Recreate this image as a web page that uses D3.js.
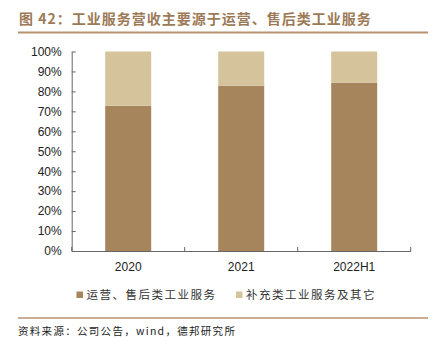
<!DOCTYPE html>
<html lang="zh">
<head>
<meta charset="UTF-8">
<title>图42</title>
<script src="https://d3js.org/d3.v7.min.js"></script>
<style>
  body { margin: 0; background: #fff; }
  svg { display: block; font-family: "Liberation Sans", Arial, sans-serif; }
  .cjk { font-family: "Noto Sans CJK SC", sans-serif; }
</style>
</head>
<body>
<div id="chart"></div>
<script>
var categories = ['2020', '2021', '2022H1'];
var operationShare = [72.8, 82.9, 84.4];
var otherShare = [27.2, 17.1, 15.6];
var seriesNames = ['运营、售后类工业服务', '补充类工业服务及其它'];
var yTicks = [0, 10, 20, 30, 40, 50, 60, 70, 80, 90, 100];

var width = 433, height = 351;
var colors = ['#a6845c', '#d5c49b'];
var lineColor = '#b89270';

var svg = d3.select('#chart').append('svg')
    .attr('width', width)
    .attr('height', height);

// title
svg.append('text')
    .attr('class', 'cjk')
    .attr('x', 19)
    .attr('y', 24)
    .attr('fill', '#9c7a57')
    .style('font-size', '14px')
    .style('font-weight', 'bold')
    .style('letter-spacing', '1px')
    .text('图 42：工业服务营收主要源于运营、售后类工业服务');

svg.append('line')
    .attr('x1', 18).attr('x2', 428)
    .attr('y1', 32.5).attr('y2', 32.5)
    .attr('stroke', lineColor)
    .attr('stroke-width', 2);

var x = d3.scaleBand()
    .domain(categories)
    .range([71.7, 410.7])
    .paddingInner(0)
    .paddingOuter(0);

var y = d3.scaleLinear()
    .domain([0, 100])
    .range([251, 51.5]);

var barWidth = 46;

var stackData = categories.map(function(c, i) {
    return { cat: c, a: operationShare[i], b: otherShare[i] };
});
var stack = d3.stack().keys(['a', 'b'])(stackData);

svg.append('g').selectAll('g')
    .data(stack)
    .join('g')
    .attr('fill', function(d, i) { return colors[i]; })
    .selectAll('rect')
    .data(function(d) { return d; })
    .join('rect')
    .attr('x', function(d) { return x(d.data.cat) + x.bandwidth() / 2 - barWidth / 2; })
    .attr('y', function(d) { return y(d[1]); })
    .attr('width', barWidth)
    .attr('height', function(d) { return y(d[0]) - y(d[1]); });

// y axis
var yAxis = svg.append('g')
    .attr('transform', 'translate(71.7,0)')
    .call(d3.axisLeft(y).tickValues(yTicks)
        .tickFormat(function(d) { return d + '%'; })
        .tickSizeInner(-4).tickSizeOuter(0).tickPadding(10));
yAxis.select('.domain').attr('stroke', '#666');
yAxis.selectAll('.tick line').attr('stroke', '#666');
yAxis.selectAll('text')
    .attr('fill', '#222')
    .style('font-size', '12px')
    .style('font-family', '"Liberation Sans", Arial, sans-serif');

// x axis
var xTickPos = [71.7, 184.7, 297.7, 410.7];
var xAxis = svg.append('g')
    .attr('transform', 'translate(0,251)')
    .call(d3.axisBottom(x).tickSize(0).tickPadding(11));
xAxis.select('.domain').attr('stroke', '#666');
xAxis.selectAll('text')
    .attr('fill', '#222')
    .style('font-size', '12px')
    .style('font-family', '"Liberation Sans", Arial, sans-serif');
xAxis.selectAll('.sep')
    .data(xTickPos)
    .join('line')
    .attr('class', 'sep')
    .attr('x1', function(d) { return d; })
    .attr('x2', function(d) { return d; })
    .attr('y1', 0).attr('y2', -4)
    .attr('stroke', '#666');

// legend
var legendX = [76.5, 236];
var legend = svg.append('g').selectAll('g')
    .data(seriesNames)
    .join('g')
    .attr('transform', function(d, i) { return 'translate(' + legendX[i] + ',295)'; });
legend.append('rect')
    .attr('x', 0).attr('y', -3.5)
    .attr('width', 6.5).attr('height', 6.5)
    .attr('fill', function(d, i) { return colors[i]; });
legend.append('text')
    .attr('class', 'cjk')
    .attr('x', 10)
    .attr('y', 4)
    .attr('fill', '#333')
    .style('font-size', '11.5px')
    .style('letter-spacing', '1.5px')
    .text(function(d) { return d; });

// footer
svg.append('line')
    .attr('x1', 18).attr('x2', 428)
    .attr('y1', 318).attr('y2', 318)
    .attr('stroke', lineColor)
    .attr('stroke-width', 1.5);

svg.append('text')
    .attr('class', 'cjk')
    .attr('x', 18)
    .attr('y', 335)
    .attr('fill', '#222')
    .style('font-size', '10.5px')
    .style('letter-spacing', '1.3px')
    .text('资料来源：公司公告，wind，德邦研究所');
</script>
</body>
</html>
